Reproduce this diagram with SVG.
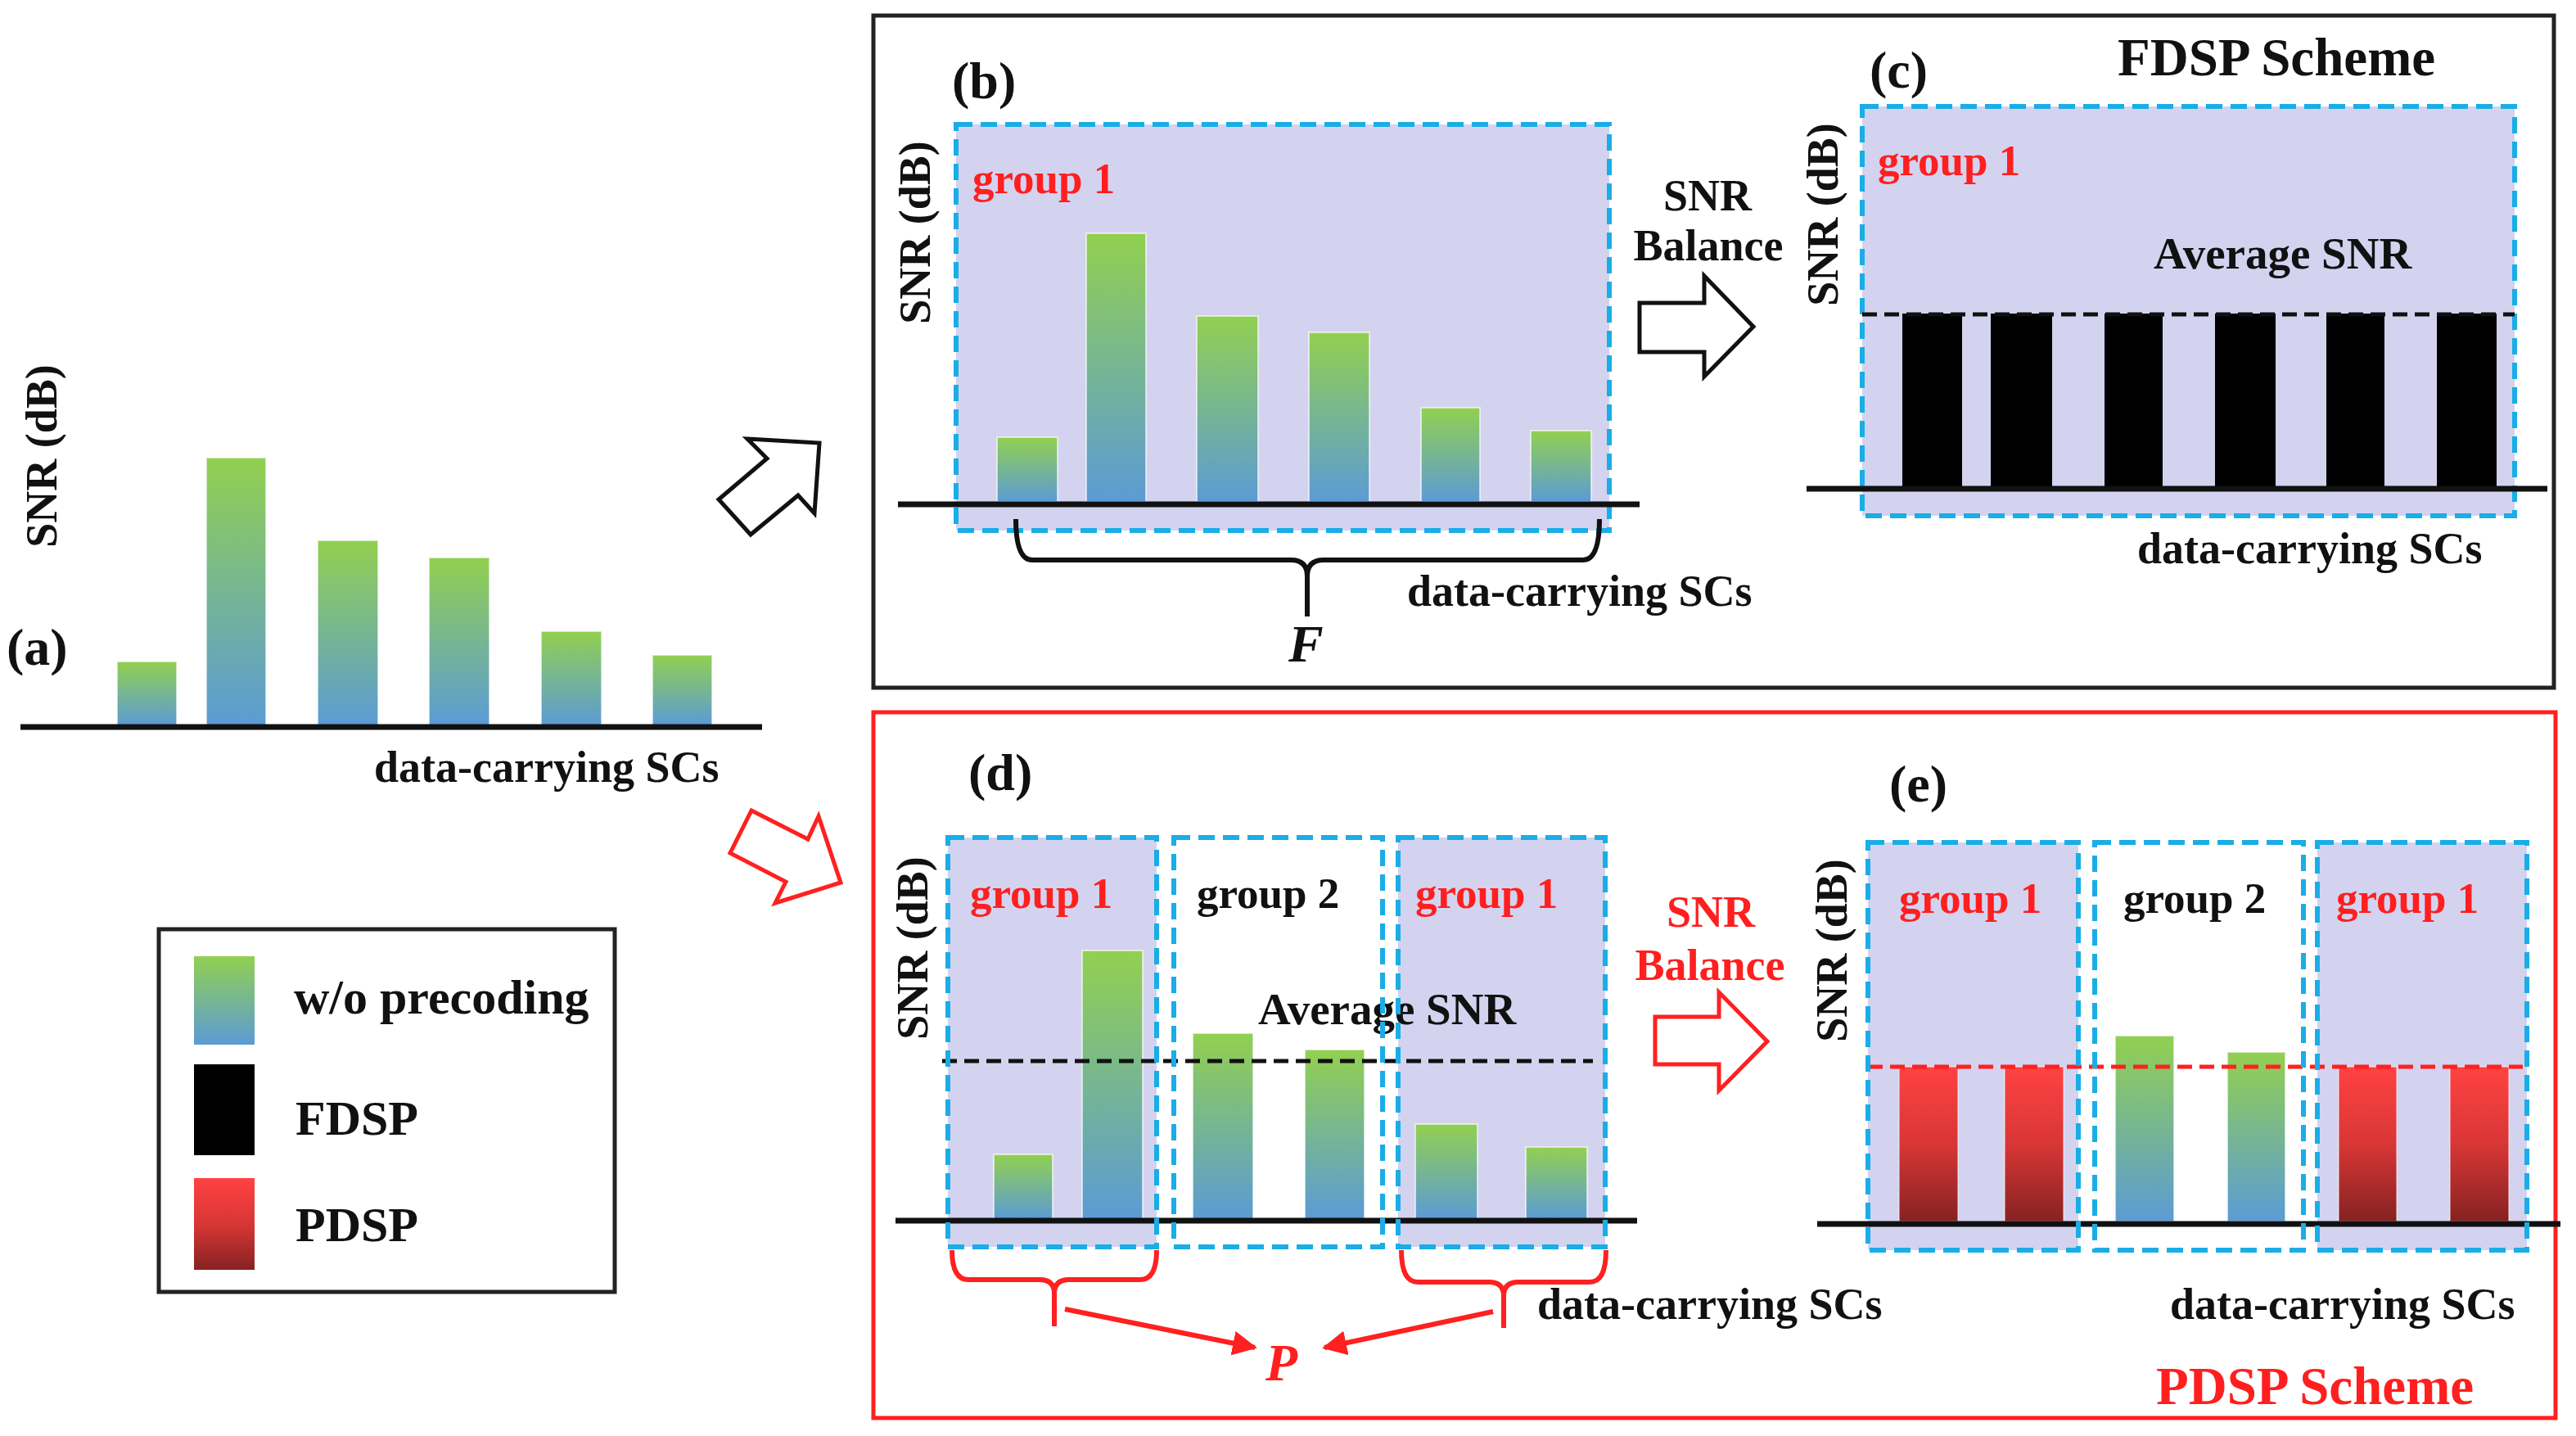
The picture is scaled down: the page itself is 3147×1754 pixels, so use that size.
<svg xmlns="http://www.w3.org/2000/svg" width="3147" height="1754" viewBox="0 0 3147 1754">
<defs>
<linearGradient id="gb" x1="0" y1="0" x2="0" y2="1"><stop offset="0" stop-color="#92D050"/><stop offset="1" stop-color="#5B9BD5"/></linearGradient>
<linearGradient id="gr" x1="0" y1="0" x2="0" y2="1"><stop offset="0" stop-color="#FF4242"/><stop offset="0.5" stop-color="#D83636"/><stop offset="1" stop-color="#862222"/></linearGradient>
<marker id="ah" viewBox="0 0 10 10" refX="9" refY="5" markerWidth="5" markerHeight="5" orient="auto" markerUnits="strokeWidth"><path d="M0,0 L10,5 L0,10 z" fill="#FF2020"/></marker>
<style>
.t{font-family:"Liberation Serif","Times New Roman",serif;font-weight:bold;fill:#111}
.red{fill:#FF1F1F}
.it{font-style:italic}
.dash{fill:none;stroke:#1AADE6;stroke-width:6;stroke-dasharray:20 10}
.lav{fill:#D3D3F0}
.bar{fill:url(#gb);stroke:#fff;stroke-opacity:.6;stroke-width:2}
.rbar{fill:url(#gr);stroke:#fff;stroke-opacity:.4;stroke-width:2}
.blk{fill:#000}
.axis{stroke:#111;stroke-width:7}
.frame{fill:none;stroke-width:5}
.avg{fill:none;stroke:#111;stroke-width:5;stroke-dasharray:18 9}
.ravg{fill:none;stroke:#FF2020;stroke-width:5;stroke-dasharray:18 9}
.barrow{fill:#fff;stroke:#111;stroke-width:5;stroke-linejoin:miter}
.rarrow{fill:#fff;stroke:#FF2020;stroke-width:5;stroke-linejoin:miter}
.brace{fill:none;stroke-width:6;stroke-linejoin:round}
</style>
</defs>
<rect width="3147" height="1754" fill="#fff"/>

<!-- Frames -->
<g id="fdsp-frame"><rect class="frame" x="1067" y="19" width="2053" height="821" stroke="#222"/></g>
<g id="pdsp-frame"><rect class="frame" x="1067" y="870" width="2055" height="862" stroke="#FF2020"/></g>

<!-- Panel (a) -->
<g id="panel-a">
<text class="t" font-size="54" text-anchor="middle" transform="translate(69,557) rotate(-90)">SNR (dB)</text>
<text class="t" font-size="64" x="8" y="812">(a)</text>
<rect class="bar" x="143" y="808" width="73" height="78"/>
<rect class="bar" x="252" y="559" width="73" height="327"/>
<rect class="bar" x="388" y="660" width="74" height="226"/>
<rect class="bar" x="524" y="681" width="74" height="205"/>
<rect class="bar" x="661" y="771" width="74" height="115"/>
<rect class="bar" x="797" y="800" width="73" height="86"/>
<line class="axis" x1="25" y1="888" x2="931" y2="888" stroke-width="8"/>
<text class="t" font-size="54" x="457" y="955">data-carrying SCs</text>
</g>

<!-- Legend -->
<g id="legend">
<rect x="194" y="1135" width="557" height="443" fill="#fff" stroke="#222" stroke-width="5"/>
<rect x="237" y="1168" width="74" height="108" fill="url(#gb)"/>
<rect x="237" y="1300" width="74" height="111" fill="#000"/>
<rect x="237" y="1439" width="74" height="112" fill="url(#gr)"/>
<text class="t" font-size="60" x="359" y="1238">w/o precoding</text>
<text class="t" font-size="60" x="361" y="1386">FDSP</text>
<text class="t" font-size="60" x="361" y="1516">PDSP</text>
</g>

<!-- Panel (b) -->
<g id="panel-b">
<text class="t" font-size="64" x="1163" y="120">(b)</text>
<rect class="lav" x="1168" y="152" width="798" height="496"/>
<rect class="dash" x="1168" y="152" width="798" height="496"/>
<text class="t" font-size="54" text-anchor="middle" transform="translate(1136,284) rotate(-90)">SNR (dB)</text>
<text class="t red" font-size="53" x="1188" y="236">group 1</text>
<rect class="bar" x="1218" y="534" width="74" height="79"/>
<rect class="bar" x="1327" y="285" width="73" height="328"/>
<rect class="bar" x="1462" y="386" width="75" height="227"/>
<rect class="bar" x="1599" y="406" width="74" height="207"/>
<rect class="bar" x="1736" y="498" width="72" height="115"/>
<rect class="bar" x="1870" y="526" width="74" height="87"/>
<line class="axis" x1="1097" y1="616" x2="2003" y2="616"/>
<path class="brace" stroke="#111" d="M1241,634 Q1241,684 1261,684 L1577,684 Q1597,684 1597,704 L1597,753 M1597,704 Q1597,684 1617,684 L1934,684 Q1954,684 1954,634"/>
<text class="t it" font-size="64" x="1574" y="808">F</text>
<text class="t" font-size="54" x="1719" y="740">data-carrying SCs</text>
</g>

<!-- Panel (c) -->
<g id="panel-c">
<text class="t" font-size="65" x="2587" y="92">FDSP Scheme</text>
<text class="t" font-size="64" x="2284" y="107">(c)</text>
<rect class="lav" x="2275" y="130" width="797" height="500"/>
<rect class="dash" x="2275" y="130" width="797" height="500"/>
<text class="t" font-size="54" text-anchor="middle" transform="translate(2245,262) rotate(-90)">SNR (dB)</text>
<text class="t red" font-size="53" x="2294" y="214">group 1</text>
<text class="t" font-size="55" x="2631" y="328">Average SNR</text>
<rect class="blk" x="2324" y="383" width="73" height="213"/>
<rect class="blk" x="2432" y="383" width="75" height="213"/>
<rect class="blk" x="2571" y="383" width="71" height="213"/>
<rect class="blk" x="2706" y="383" width="74" height="213"/>
<rect class="blk" x="2842" y="383" width="71" height="213"/>
<rect class="blk" x="2977" y="383" width="73" height="213"/>
<line class="avg" x1="2275" y1="384" x2="3072" y2="384"/>
<line class="axis" x1="2207" y1="597" x2="3112" y2="597"/>
<text class="t" font-size="54" x="2611" y="688">data-carrying SCs</text>
</g>

<!-- Panel (d) -->
<g id="panel-d">
<text class="t" font-size="64" x="1183" y="965">(d)</text>
<rect class="lav" x="1158" y="1023" width="255" height="500"/>
<rect class="lav" x="1708" y="1023" width="253" height="500"/>
<text class="t" font-size="54" text-anchor="middle" transform="translate(1133,1158) rotate(-90)">SNR (dB)</text>
<text class="t red" font-size="53" x="1185" y="1109">group 1</text>
<text class="t" font-size="53" x="1462" y="1109">group 2</text>
<text class="t red" font-size="53" x="1729" y="1109">group 1</text>
<rect class="bar" x="1214" y="1410" width="72" height="79"/>
<rect class="bar" x="1322" y="1161" width="74" height="328"/>
<rect class="bar" x="1457" y="1262" width="74" height="227"/>
<rect class="bar" x="1594" y="1282" width="73" height="207"/>
<rect class="bar" x="1729" y="1373" width="76" height="116"/>
<rect class="bar" x="1864" y="1401" width="75" height="88"/>
<text class="t" font-size="55" x="1537" y="1251">Average SNR</text>
<line class="avg" x1="1151" y1="1296" x2="1946" y2="1296"/>
<line class="axis" x1="1094" y1="1491" x2="2000" y2="1491"/>
<rect class="dash" x="1158" y="1023" width="255" height="500"/>
<rect class="dash" x="1434" y="1023" width="255" height="500"/>
<rect class="dash" x="1708" y="1023" width="253" height="500"/>
<path class="brace" stroke="#FF2020" d="M1163,1527 Q1163,1563 1183,1563 L1270,1563 Q1288,1563 1288,1580 L1288,1620 M1288,1580 Q1288,1563 1306,1563 L1393,1563 Q1413,1563 1413,1527"/>
<path class="brace" stroke="#FF2020" d="M1712,1527 Q1712,1566 1732,1566 L1819,1566 Q1837,1566 1837,1583 L1837,1622 M1837,1583 Q1837,1566 1855,1566 L1942,1566 Q1962,1566 1962,1527"/>
<text class="t it red" font-size="64" x="1546" y="1686">P</text>
<text class="t" font-size="54" x="1878" y="1611">data-carrying SCs</text>
</g>

<!-- Panel (e) -->
<g id="panel-e">
<text class="t" font-size="64" x="2308" y="979">(e)</text>
<rect class="lav" x="2282" y="1029" width="257" height="498"/>
<rect class="lav" x="2831" y="1029" width="256" height="498"/>
<text class="t" font-size="54" text-anchor="middle" transform="translate(2256,1161) rotate(-90)">SNR (dB)</text>
<text class="t red" font-size="53" x="2320" y="1115">group 1</text>
<text class="t" font-size="53" x="2594" y="1115">group 2</text>
<text class="t red" font-size="53" x="2854" y="1115">group 1</text>
<rect class="rbar" x="2320" y="1303" width="72" height="189"/>
<rect class="rbar" x="2449" y="1303" width="72" height="189"/>
<rect class="rbar" x="2857" y="1303" width="71" height="189"/>
<rect class="rbar" x="2993" y="1303" width="72" height="189"/>
<rect class="bar" x="2584" y="1265" width="72" height="227"/>
<rect class="bar" x="2721" y="1285" width="71" height="207"/>
<line class="ravg" x1="2282" y1="1303" x2="3082" y2="1303"/>
<line class="axis" x1="2220" y1="1495" x2="3128" y2="1495"/>
<rect class="dash" x="2282" y="1029" width="257" height="498"/>
<rect class="dash" x="2559" y="1029" width="255" height="498"/>
<rect class="dash" x="2831" y="1029" width="256" height="498"/>
<text class="t" font-size="54" x="2651" y="1611">data-carrying SCs</text>
<text class="t red" font-size="65" x="2634" y="1715">PDSP Scheme</text>
</g>

<!-- Balance labels -->
<g id="balance-fdsp">
<text class="t" font-size="54" text-anchor="middle" x="2086" y="257">SNR</text>
<text class="t" font-size="54" text-anchor="middle" x="2087" y="318">Balance</text>
</g>
<g id="balance-pdsp">
<text class="t red" font-size="54" text-anchor="middle" x="2090" y="1132">SNR</text>
<text class="t red" font-size="54" text-anchor="middle" x="2089" y="1197">Balance</text>
</g>

<!-- Connectors -->
<g id="connectors">
<polygon class="barrow" points="913,536 1001,541 995,627 975,605 917,653 878,610 937,560"/>
<polygon class="rarrow" points="918,990 987,1025 1000,997 1027,1078 947,1103 960,1077 892,1042"/>
<polygon class="barrow" points="2003,370 2082,370 2082,337 2142,399 2082,460 2082,430 2003,430"/>
<polygon class="rarrow" points="2022,1242 2100,1242 2100,1212 2159,1272 2100,1332 2100,1300 2022,1300"/>
<line x1="1301" y1="1599" x2="1533" y2="1646" stroke="#FF2020" stroke-width="6" marker-end="url(#ah)"/>
<line x1="1824" y1="1602" x2="1618" y2="1646" stroke="#FF2020" stroke-width="6" marker-end="url(#ah)"/>
</g>
</svg>
